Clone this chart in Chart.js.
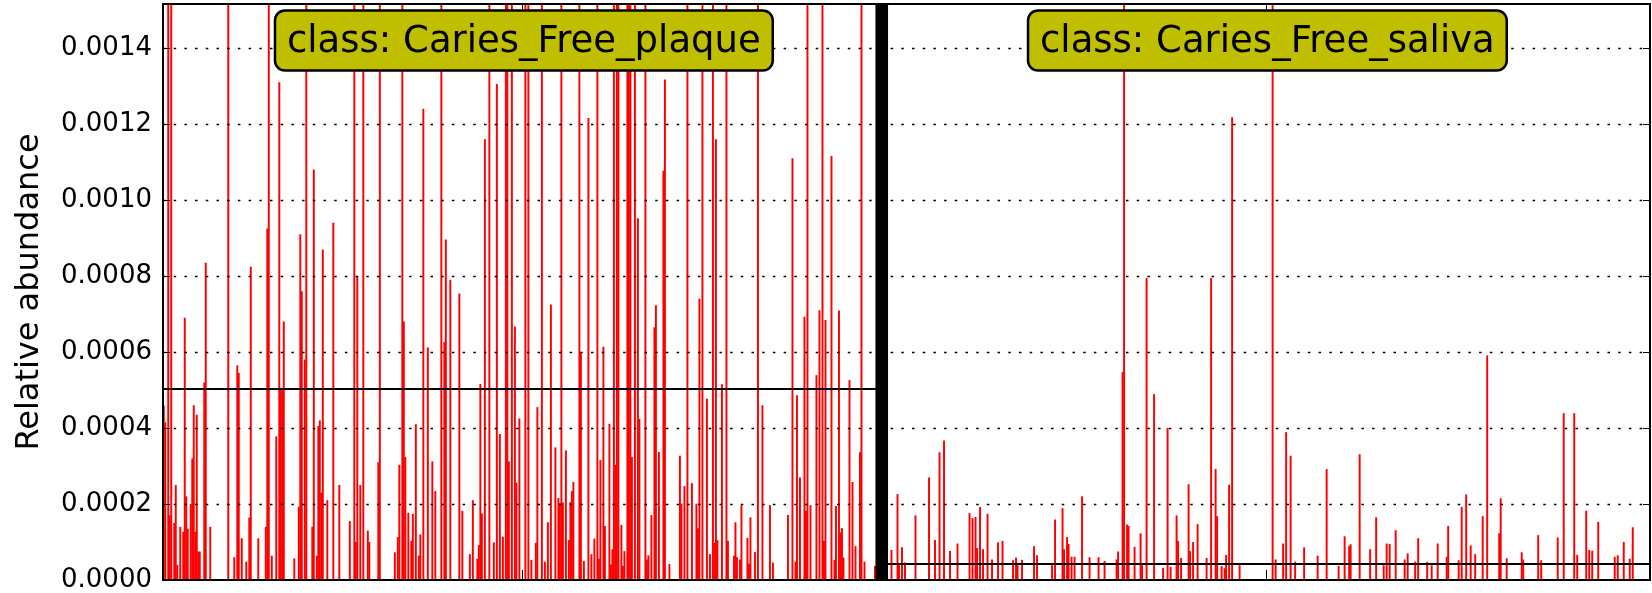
<!DOCTYPE html>
<html>
<head>
<meta charset="utf-8">
<script src="https://cdn.jsdelivr.net/npm/chart.js@4/dist/chart.umd.min.js"></script>
<style>
  html, body { margin: 0; padding: 0; background: #fff; }
  #wrap { width: 1652px; height: 593px; }
</style>
</head>
<body>
<div id="wrap"><canvas id="chart" width="1652" height="593"></canvas></div>
<script>
// values are in units of 1e-5 relative abundance (bars above the top are clipped)
const UNIT = 1e-5;
const classNames = ['Caries_Free_plaque', 'Caries_Free_saliva'];

const plaque = [
  46, 41.5, 0, 160, 17, 160, 0, 15, 25, 4, 0, 14, 0, 12.7, 69, 22, 13.5, 0, 20, 32,
  46, 12.7, 43.5, 7.5, 7.5, 0, 0, 52, 83.5, 0, 0, 14, 0, 0, 0, 0, 0, 0, 0, 0,
  0, 0, 0, 160, 0, 0, 0, 6, 0, 56.5, 54.5, 0, 11, 0, 0, 4.8, 0, 16.4, 82.4, 0,
  0, 0, 0, 11, 0, 0, 0, 0, 14, 92.5, 160, 0, 6.4, 0, 0, 37.8, 0, 131, 50, 50.5,
  68, 0, 0, 0, 0, 0, 0, 5.7, 0, 0, 19.3, 91, 76, 0, 58, 160, 0, 0, 0, 14,
  108, 0, 6.4, 40.5, 42, 23, 87, 0, 0, 21, 0, 0, 0, 94, 0, 0, 0, 25, 0, 0,
  0, 0, 0, 0, 15.5, 0, 0, 160, 10, 80, 0, 25, 0, 160, 0, 0, 13, 10, 0, 0,
  0, 0, 0, 31, 160, 0, 0, 0, 0, 0, 0, 0, 0, 0, 7.3, 0, 11.3, 30.3, 0, 160,
  68, 32.4, 0, 17.7, 0, 10.3, 17.4, 0, 41, 0, 6.4, 12, 0, 124, 0, 0, 61.2, 0, 0, 31.2,
  0, 23.4, 0, 0, 0, 160, 0, 62.6, 89.6, 0, 0, 79, 0, 0, 0, 0, 0, 75.4, 0, 18.2,
  0, 0, 0, 0, 6.8, 0, 21, 0, 0, 5.6, 9.2, 51.6, 17.5, 0, 116, 0, 0, 160, 0, 0,
  9.9, 0, 130.5, 0, 38.4, 0, 11.4, 0, 160, 160, 31.2, 0, 160, 0, 66.7, 25.6, 0, 42.5, 0, 0,
  0, 160, 0, 160, 0, 5.3, 0, 0, 9.8, 45.5, 0, 0, 160, 0, 4.8, 0, 15.2, 0, 72.5, 0,
  0, 34.9, 0, 21.6, 20.2, 160, 20.4, 0, 34.1, 0, 10.5, 20.5, 23.4, 25.8, 0, 0, 0, 160, 60, 0,
  5, 0, 0, 121.6, 0, 6.8, 0, 10.9, 0, 160, 5.6, 31.6, 0, 61.4, 14.2, 0, 0, 41.1, 4.1, 8.1,
  160, 30.3, 160, 160, 0, 14.5, 3.7, 7.6, 0, 160, 160, 160, 32.4, 0, 160, 0, 95.2, 42.4, 0, 0,
  0, 160, 5.4, 6.5, 0, 17.1, 0, 66.5, 72.3, 0, 33.7, 0, 0, 107.7, 131.7, 0, 0, 4.2, 0, 0,
  0, 0, 0, 0, 32.7, 20.1, 0, 24.7, 0, 160, 0, 0, 25.5, 0, 0, 20.1, 13.6, 74, 0, 160,
  0, 0, 47.7, 0, 6.8, 0, 160, 9.8, 116, 10.5, 0, 0, 51.5, 0, 0, 160, 10.3, 0, 0, 0,
  6.4, 15.2, 6, 0, 5.4, 19.7, 0, 0, 0, 11.1, 4.3, 16.5, 0, 0, 7.4, 0, 160, 0, 0, 46,
  0, 0, 0, 0, 19.7, 0, 4.6, 0, 0, 0, 0, 0, 0, 0, 0, 0, 17.1, 0, 0, 111,
  0, 4.8, 48.6, 0, 27, 0, 0, 69.3, 18.2, 160, 0, 19.7, 0, 0, 0, 53.9, 0, 71, 0, 160,
  10.3, 68.4, 0, 0, 0, 111.6, 0, 5.3, 19.5, 0, 70.9, 12.5, 13.6, 5.9, 0, 0, 0, 52.6, 0, 25.8,
  0, 8.9, 0, 0, 33.6, 160, 0, 4.8, 0, 0, 0, 0, 0, 0, 3.7, 0, 0, 0, 0
];

const saliva = [
  0, 0, 0, 0, 0, 0, 7.9, 0, 0, 0, 22.6, 4, 0, 8.6, 0, 4.6, 0, 0, 0, 0,
  0, 0, 17, 0, 0, 0, 0, 0, 0, 0, 0, 27, 0, 0, 0, 10.5, 0, 0, 33.6, 0,
  0, 36.7, 0, 0, 0, 7.6, 0, 0, 0, 0, 9.6, 0, 0, 0, 0, 0, 0, 0, 17.6, 0,
  16.3, 0, 16.6, 8.4, 0, 19.2, 0, 8.1, 0, 0, 17.4, 0, 0, 5.4, 0, 0, 0, 9.9, 0, 0,
  10.3, 0, 0, 0, 0, 0, 0, 5.2, 0, 5.9, 4.1, 0, 0, 5.3, 0, 0, 0, 0, 0, 0,
  0, 8.9, 0, 6.5, 0, 0, 0, 0, 0, 0, 0, 0, 0, 3.9, 0, 15.9, 0, 0, 0, 0,
  18.9, 8.1, 0, 11.3, 9.5, 0, 6.1, 0, 6.1, 0, 0, 0, 0, 22, 0, 0, 0, 0, 6, 0,
  0, 0, 0, 0, 6, 0, 0, 0, 5, 0, 0, 0, 0, 0, 0, 0, 5.4, 7.5, 0, 0,
  54.7, 160, 0, 14.6, 14.2, 0, 0, 0, 8.7, 0, 0, 0, 12.3, 4.1, 0, 0, 79.5, 0, 0, 0,
  0, 48.9, 0, 0, 0, 0, 0, 3.2, 0, 0, 40, 0, 3.5, 0, 0, 0, 17, 10.3, 0, 5.8,
  0, 0, 0, 0, 25.2, 7.6, 0, 10, 0, 0, 14.7, 0, 0, 0, 0, 0, 5.8, 0, 0, 79.5,
  0, 0, 29.2, 16.8, 0, 0, 3.7, 0, 3.1, 6.6, 0, 25.1, 0, 121.8, 0, 0, 0, 0, 3.9, 0,
  0, 0, 0, 0, 0, 0, 0, 0, 0, 0, 0, 0, 0, 0, 0, 0, 0, 0, 0, 0,
  160, 0, 5.4, 0, 0, 0, 0, 9.6, 0, 38.9, 0, 0, 32.7, 0, 0, 4.8, 0, 0, 0, 0,
  0, 8.6, 0, 0, 0, 0, 0, 0, 0, 0, 6.4, 0, 0, 0, 0, 0, 29.2, 0, 0, 0,
  0, 0, 0, 0, 3.7, 0, 0, 0, 11.5, 0, 0, 8.9, 9.4, 0, 0, 0, 0, 0, 33.1, 0,
  0, 0, 0, 0, 0, 8.1, 0, 0, 0, 16.5, 0, 0, 0, 0, 3.9, 0, 9.6, 0, 9.5, 0,
  0, 0, 13.1, 0, 0, 0, 0, 0, 5.4, 0, 7, 0, 0, 0, 0, 4.8, 0, 11, 0, 0,
  0, 0, 0, 4.8, 0, 0, 3.9, 0, 0, 0, 9.6, 0, 0, 0, 0, 0, 6.1, 14.2, 0, 0,
  0, 0, 0, 0, 5.2, 0, 19.2, 0, 0, 22.5, 0, 0, 9.1, 0, 0, 6.8, 0, 0, 0, 0,
  16.8, 0, 0, 59.1, 0, 0, 0, 0, 0, 0, 0, 12.3, 21.5, 0, 0, 0, 5.7, 0, 0, 0,
  0, 0, 0, 0, 0, 0, 7.3, 5.4, 0, 0, 0, 0, 0, 0, 0, 0, 0, 11.8, 0, 5.2,
  0, 0, 0, 0, 0, 0, 0, 0, 0, 0, 11.2, 0, 0, 0, 43.9, 0, 0, 0, 0, 0,
  0, 43.9, 0, 6.6, 0, 0, 0, 0, 0, 18.2, 0, 7.9, 0, 7.7, 0, 0, 0, 15.3, 0, 0,
  0, 0, 0, 0, 0, 0, 0, 0, 6.1, 0, 6.5, 0, 0, 0, 10, 0, 0, 0, 5.6, 0,
  13.9, 0, 0, 0, 0, 0, 0, 0, 0, 0, 0, 0
];

// class means (same units)
const classMeans = [50.3, 4.21];

const yTicks = [0, 0.0002, 0.0004, 0.0006, 0.0008, 0.0010, 0.0012, 0.0014];
const yMax = 0.0015157;

const sampleLabels = plaque.map((_, i) => classNames[0] + ' ' + (i + 1))
  .concat(saliva.map((_, i) => classNames[1] + ' ' + (i + 1)));
const values = plaque.concat(saliva).map(v => v * UNIT);

// grid, mean lines, class separator, frame and class labels on top of the bars
const lefseOverlay = {
  id: 'lefseOverlay',
  afterDatasetsDraw(chart) {
    const { ctx, chartArea: a, scales: { x, y } } = chart;
    const step = (x.right - x.left) / values.length;
    const split = x.left + plaque.length * step;
    ctx.save();

    ctx.strokeStyle = '#000';
    ctx.lineWidth = 1.5;
    ctx.setLineDash([2.5, 8.2]);
    yTicks.slice(1).forEach(v => {
      const py = Math.round(y.getPixelForValue(v)) + 0.5;
      ctx.beginPath();
      ctx.moveTo(a.left, py);
      ctx.lineTo(a.right, py);
      ctx.stroke();
    });
    ctx.setLineDash([]);

    ctx.lineWidth = 2;
    [[a.left, split], [split, a.right]].forEach(([x0, x1], i) => {
      const py = Math.round(y.getPixelForValue(classMeans[i] * UNIT));
      ctx.beginPath();
      ctx.moveTo(x0, py);
      ctx.lineTo(x1, py);
      ctx.stroke();
    });

    ctx.fillStyle = '#000';
    ctx.fillRect(split - 6.3, a.top, 12.6, a.bottom - a.top);

    ctx.lineWidth = 2;
    ctx.strokeRect(a.left, a.top, a.right - a.left, a.bottom - a.top);

    ctx.lineWidth = 1;
    yTicks.forEach(v => {
      const py = Math.round(y.getPixelForValue(v)) + 0.5;
      ctx.beginPath();
      ctx.moveTo(a.left, py); ctx.lineTo(a.left + 7, py);
      ctx.moveTo(a.right, py); ctx.lineTo(a.right - 7, py);
      ctx.stroke();
    });

    const centers = [(a.left + split) / 2, (split + a.right) / 2];
    centers.forEach(cx => {
      const px = Math.round(cx) + 0.5;
      ctx.beginPath();
      ctx.moveTo(px, a.bottom); ctx.lineTo(px, a.bottom - 10);
      ctx.moveTo(px, a.top); ctx.lineTo(px, a.top + 7);
      ctx.stroke();
    });

    ctx.font = '37px "DejaVu Sans"';
    ctx.textAlign = 'center';
    ctx.textBaseline = 'alphabetic';
    centers.forEach((cx, i) => {
      const text = 'class: ' + classNames[i];
      const w = ctx.measureText(text).width + 24;
      const tx = cx + 1.5;
      ctx.beginPath();
      ctx.roundRect(tx - w / 2, 10.5, w, 60, 10);
      ctx.fillStyle = '#bfbf00';
      ctx.fill();
      ctx.lineWidth = 2.5;
      ctx.strokeStyle = '#000';
      ctx.stroke();
      ctx.fillStyle = '#000';
      ctx.fillText(text, tx, 52);
    });

    ctx.restore();
  }
};

new Chart(document.getElementById('chart'), {
  type: 'bar',
  data: {
    labels: sampleLabels,
    datasets: [{
      label: 'Relative abundance',
      data: values,
      backgroundColor: '#ff0000',
      borderWidth: 0,
      barPercentage: 1.3,
      categoryPercentage: 1.0,
      clip: 0
    }]
  },
  options: {
    responsive: false,
    devicePixelRatio: 1,
    animation: false,
    layout: { padding: { top: 4, right: 2, bottom: 13, left: 0 } },
    plugins: {
      legend: { display: false },
      tooltip: { enabled: false }
    },
    scales: {
      x: {
        type: 'category',
        display: false
      },
      y: {
        min: 0,
        max: yMax,
        afterBuildTicks: s => { s.ticks = yTicks.map(v => ({ value: v })); },
        afterFit: s => {
          s.width = 163;
          s.paddingTop = 0;
          s.paddingBottom = 0;
        },
        grid: { display: false, drawTicks: false },
        border: { display: false },
        ticks: {
          color: '#000',
          padding: 11,
          font: { family: 'DejaVu Sans', size: 26 },
          callback: v => Number(v).toFixed(4)
        },
        title: {
          display: true,
          text: 'Relative abundance',
          color: '#000',
          font: { family: 'DejaVu Sans', size: 32, lineHeight: 1.2 },
          padding: { top: 10, bottom: 0 }
        }
      }
    }
  },
  plugins: [lefseOverlay]
});
</script>
</body>
</html>
